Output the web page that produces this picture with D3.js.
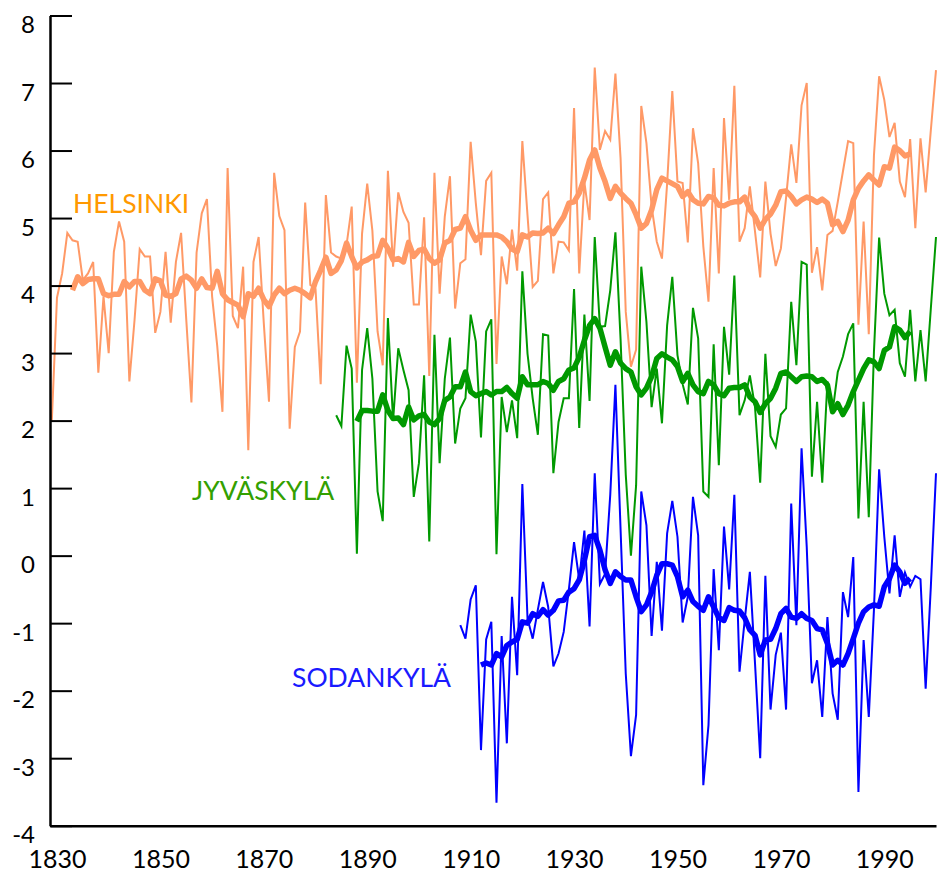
<!DOCTYPE html>
<html>
<head>
<meta charset="utf-8">
<script src="https://cdn.jsdelivr.net/npm/d3@7"></script>
<style>
  html, body { margin: 0; padding: 0; background: #fff; }
  svg { display: block; }
  text { font-family: "Lato", "Open Sans", sans-serif; }
</style>
</head>
<body>
<svg id="chart" width="946" height="877"></svg>
<script>
// ---------------- data ----------------
const xTickLabels = [1830, 1850, 1870, 1890, 1910, 1930, 1950, 1970, 1990];
const yTickLabels = [-4, -3, -2, -1, 0, 1, 2, 3, 4, 5, 6, 7, 8];

const helsinkiStart = 1829;
const helsinkiTemp = [
  2.0, 3.82, 4.18, 4.78, 4.67, 4.65, 4.08, 4.18, 4.35, 2.71,
  3.84, 3.0, 4.5, 4.95, 4.65, 2.58, 3.49, 4.54, 4.43, 4.43,
  3.3, 3.61, 4.5, 3.45, 4.35, 4.78, 3.5, 2.27, 4.49, 5.07,
  5.28, 3.84, 3.1, 2.13, 5.74, 3.55, 3.37, 4.28, 1.56, 4.35,
  4.72, 3.44, 2.28, 5.67, 5.03, 4.82, 1.88, 3.09, 3.32, 5.23,
  4.01, 3.95, 2.54, 5.34, 4.49, 4.43, 4.4, 4.6, 5.17, 2.56,
  4.77, 5.51, 4.81, 3.32, 2.82, 5.7, 4.28, 5.38, 5.09, 4.93,
  3.72, 3.72, 5.01, 2.66, 5.67, 3.88, 5.02, 5.62, 3.66, 4.33,
  4.39, 6.13, 5.22, 4.45, 5.55, 5.67, 2.84, 4.43, 4.02, 4.83,
  4.22, 6.14, 5.04, 3.98, 4.07, 5.28, 5.38, 4.18, 4.65, 4.64,
  4.52, 6.63, 4.18, 5.53, 4.97, 7.23, 6.01, 6.29, 6.16, 7.14,
  5.88, 3.61, 2.8, 3.05, 6.66, 6.11, 5.17, 4.65, 4.4, 5.51,
  6.88, 5.54, 5.52, 4.64, 6.33, 5.81, 4.58, 3.76, 5.74, 4.18,
  6.48, 5.27, 6.96, 4.65, 4.85, 5.47, 4.8, 4.12, 5.54, 4.77,
  4.29, 4.55, 5.3, 6.09, 5.52, 6.67, 7.0, 4.19, 4.57, 3.93,
  4.75, 4.81, 5.24, 5.69, 6.14, 6.11, 3.42, 4.95, 3.28, 5.93,
  7.1, 6.75, 6.2, 6.41, 5.54, 5.31, 6.17, 4.85, 6.18, 5.38,
  6.3, 7.19
];
const helsinkiSmoothStart = 1833;
const helsinkiSmooth = [
  3.93, 4.13, 4.03, 4.09, 4.1, 4.1, 3.88, 3.85, 3.87, 3.87,
  4.06, 3.98, 4.06, 4.06, 3.93, 3.88, 4.1, 4.07, 3.86, 3.84,
  3.88, 4.1, 4.14, 4.08, 3.96, 4.1, 3.97, 3.96, 4.21, 3.88,
  3.79, 3.75, 3.71, 3.54, 3.88, 3.84, 3.96, 3.79, 3.69, 3.86,
  3.96, 3.88, 3.93, 3.96, 3.93, 3.88, 3.82, 4.06, 4.23, 4.42,
  4.18, 4.23, 4.37, 4.63, 4.43, 4.26, 4.35, 4.38, 4.43, 4.44,
  4.67, 4.55, 4.38, 4.4, 4.35, 4.64, 4.43, 4.52, 4.54, 4.4,
  4.33, 4.38, 4.63, 4.67, 4.83, 4.85, 5.02, 4.82, 4.67, 4.75,
  4.75, 4.75, 4.75, 4.72, 4.65, 4.54, 4.5, 4.75, 4.72, 4.78,
  4.77, 4.78, 4.85, 4.77, 4.9, 5.02, 5.22, 5.24, 5.37, 5.59,
  5.86, 6.01, 5.74, 5.54, 5.29, 5.47, 5.37, 5.29, 5.22, 5.05,
  4.85, 4.92, 5.12, 5.42, 5.59, 5.55, 5.51, 5.47, 5.32, 5.39,
  5.27, 5.22, 5.21, 5.32, 5.3, 5.19, 5.18, 5.22, 5.24, 5.24,
  5.31, 5.12, 5.02, 4.85, 4.98, 5.06, 5.19, 5.39, 5.4, 5.32,
  5.21, 5.27, 5.31, 5.28, 5.23, 5.28, 5.22, 4.9, 4.95, 4.8,
  4.97, 5.27, 5.44, 5.55, 5.64, 5.56, 5.49, 5.76, 5.74, 6.05,
  6.0, 5.92, 5.95
];

const jyvaskylaStart = 1884;
const jyvaskylaTemp = [
  2.08, 1.92, 3.11, 2.77, 0.03, 2.75, 3.37, 2.62, 0.95, 0.51,
  3.52, 2.0, 3.07, 2.75, 2.45, 0.87, 1.37, 2.67, 0.21, 3.27,
  1.37, 2.62, 3.23, 1.66, 2.18, 2.33, 3.57, 3.17, 1.75, 3.32,
  3.5, 0.02, 2.35, 1.83, 2.3, 1.74, 4.21, 2.99, 2.33, 1.79,
  3.28, 3.26, 1.22, 1.98, 2.33, 2.33, 3.95, 1.89, 3.57, 2.29,
  4.72, 3.39, 3.4, 3.93, 4.79, 3.2, 1.2, 0.0, 1.04, 4.28,
  3.46, 2.2, 2.77, 1.96, 3.41, 4.13, 2.97, 2.54, 2.24, 3.67,
  3.22, 0.95, 0.87, 3.13, 1.34, 3.39, 2.68, 4.15, 2.08, 2.3,
  2.67, 2.2, 1.08, 2.99, 1.77, 1.61, 2.09, 2.18, 3.76, 2.82,
  4.35, 4.31, 1.17, 2.28, 1.08, 2.58, 2.13, 2.72, 2.95, 3.28,
  3.44, 0.55, 2.28, 0.57, 3.02, 4.71, 3.88, 3.56, 3.64, 2.85,
  2.65, 3.64, 2.58, 3.34, 2.58, 3.66, 4.72
];
const jyvaskylaSmoothStart = 1888;
const jyvaskylaSmooth = [
  1.99, 2.15, 2.15, 2.14, 2.14, 2.38, 2.15, 2.03, 2.04, 1.94,
  2.2, 2.01, 2.07, 2.09, 1.98, 1.94, 2.03, 2.3, 2.35, 2.5,
  2.5, 2.72, 2.43, 2.37, 2.4, 2.43, 2.38, 2.43, 2.43, 2.49,
  2.4, 2.33, 2.65, 2.53, 2.53, 2.53, 2.58, 2.55, 2.45, 2.58,
  2.62, 2.75, 2.78, 2.94, 3.19, 3.41, 3.51, 3.37, 3.09, 2.82,
  3.02, 2.85, 2.77, 2.72, 2.5, 2.38, 2.48, 2.65, 2.92, 2.99,
  2.94, 2.9, 2.8, 2.58, 2.7, 2.53, 2.43, 2.4, 2.58, 2.53,
  2.4, 2.37, 2.48, 2.49, 2.49, 2.53, 2.35, 2.28, 2.12, 2.25,
  2.33, 2.48, 2.7, 2.72, 2.65, 2.58, 2.65, 2.66, 2.65, 2.58,
  2.61, 2.53, 2.13, 2.25, 2.09, 2.23, 2.43, 2.6, 2.77, 2.9,
  2.87, 2.77, 3.04, 3.09, 3.39, 3.34, 3.23, 3.32
];

const sodankylaStart = 1908;
const sodankylaTemp = [
  -1.03, -1.23, -0.65, -0.44, -2.88, -1.24, -0.98, -3.66, -1.19, -2.78,
  -0.61, -1.77, 1.06, -0.93, -1.23, -0.8, -0.39, -0.76, -1.64, -1.45,
  -1.13, -0.5, 0.2, -0.36, 0.37, -1.05, 1.22, -0.42, -0.27, 0.9,
  2.53, 0.38, -1.75, -2.97, -2.36, 0.95, 0.45, -1.19, -0.09, -1.11,
  0.33, 0.81, 0.28, -0.99, -0.61, 0.87, 0.3, -3.4, -2.51, -0.2,
  -1.4, 0.43, -0.5, 0.9, -1.72, -0.96, -0.24, -1.6, -3.0, -0.3,
  -2.28, -1.47, -1.14, -2.28, 0.77, -1.03, 1.59, 0.13, -1.89, -1.55,
  -2.39, -0.91, -2.04, -2.43, -0.54, -0.91, -0.02, -3.5, -1.25, -2.39,
  -0.8, 1.28, 0.28, -0.56, 0.3, -0.61, -0.25, -0.46, -0.3, -0.35,
  -1.97, -0.46, 1.22
];
const sodankylaSmoothStart = 1912;
const sodankylaSmooth = [
  -1.62, -1.59, -1.62, -1.45, -1.5, -1.33, -1.28, -1.24, -0.98, -1.0,
  -0.86, -0.9, -0.8, -0.88, -0.81, -0.67, -0.66, -0.54, -0.49, -0.36,
  -0.07, 0.28, 0.3, 0.08, -0.21, -0.41, -0.24, -0.31, -0.36, -0.36,
  -0.61, -0.83, -0.73, -0.54, -0.29, -0.12, -0.12, -0.14, -0.31, -0.61,
  -0.51, -0.68, -0.75, -0.81, -0.61, -0.76, -0.92, -0.96, -0.77, -0.81,
  -0.82, -0.92, -1.1, -1.18, -1.47, -1.25, -1.24, -1.08, -0.86, -0.78,
  -0.91, -0.93, -0.86, -0.93, -0.96, -1.08, -1.1, -1.3, -1.62, -1.55,
  -1.62, -1.45, -1.23, -1.0, -0.83, -0.76, -0.73, -0.75, -0.46, -0.34,
  -0.14, -0.24, -0.41, -0.34
];

const stationNames = ["HELSINKI", "JYVÄSKYLÄ", "SODANKYLÄ"];

// ---------------- chart ----------------
const svg = d3.select("#chart");

const x = d3.scaleLinear().domain([1828.65, 2000]).range([50, 936]);
const y = d3.scaleLinear().domain([-4, 8]).range([825.7, 15.5]);

const toPoints = (start, vals) => vals.map((v, i) => ({ year: start + i, value: v }));
const line = d3.line().x(d => x(d.year)).y(d => y(d.value));

const series = [
  { raw: toPoints(helsinkiStart, helsinkiTemp), smooth: toPoints(helsinkiSmoothStart, helsinkiSmooth),
    color: "#ff9966", labelColor: "#ff9900", name: stationNames[0], lx: 73, ly: 213 },
  { raw: toPoints(jyvaskylaStart, jyvaskylaTemp), smooth: toPoints(jyvaskylaSmoothStart, jyvaskylaSmooth),
    color: "#009900", labelColor: "#33a000", name: stationNames[1], lx: 192, ly: 500 },
  { raw: toPoints(sodankylaStart, sodankylaTemp), smooth: toPoints(sodankylaSmoothStart, sodankylaSmooth),
    color: "#0000ff", labelColor: "#1a1aff", name: stationNames[2], lx: 292, ly: 687 }
];

series.forEach(s => {
  svg.append("path").datum(s.raw)
    .attr("d", line).attr("fill", "none")
    .attr("stroke", s.color).attr("stroke-width", 2);
  svg.append("path").datum(s.smooth)
    .attr("d", line).attr("fill", "none")
    .attr("stroke", s.color).attr("stroke-width", 5.5)
    .attr("stroke-linejoin", "round");
  svg.append("text").attr("x", s.lx).attr("y", s.ly)
    .attr("fill", s.labelColor).attr("font-size", 26.5)
    .text(s.name);
});

// axes
const yAxis = d3.axisLeft(y).tickValues(yTickLabels).tickSize(-22).tickSizeOuter(0).tickPadding(15)
  .tickFormat(d => String(d));
const gy = svg.append("g").attr("transform", "translate(50,0)").call(yAxis);
gy.selectAll("text").attr("dy", "0.71em").attr("font-size", 24).attr("fill", "#000")
  .style("font-family", "Lato, 'Open Sans', sans-serif");
gy.selectAll("line").attr("stroke", "#000").attr("stroke-width", 2);
gy.select(".domain").attr("stroke", "#000").attr("stroke-width", 2.5);

const xAxis = d3.axisBottom(x).tickValues(xTickLabels).tickSize(0).tickSizeOuter(0).tickPadding(25)
  .tickFormat(d => String(d));
const gx = svg.append("g").attr("transform", "translate(0,825.7)").call(xAxis);
gx.selectAll("text").attr("font-size", 25).attr("fill", "#000")
  .style("font-family", "Lato, 'Open Sans', sans-serif");
gx.select(".domain").attr("stroke", "#000").attr("stroke-width", 2.5);
</script>
</body>
</html>
